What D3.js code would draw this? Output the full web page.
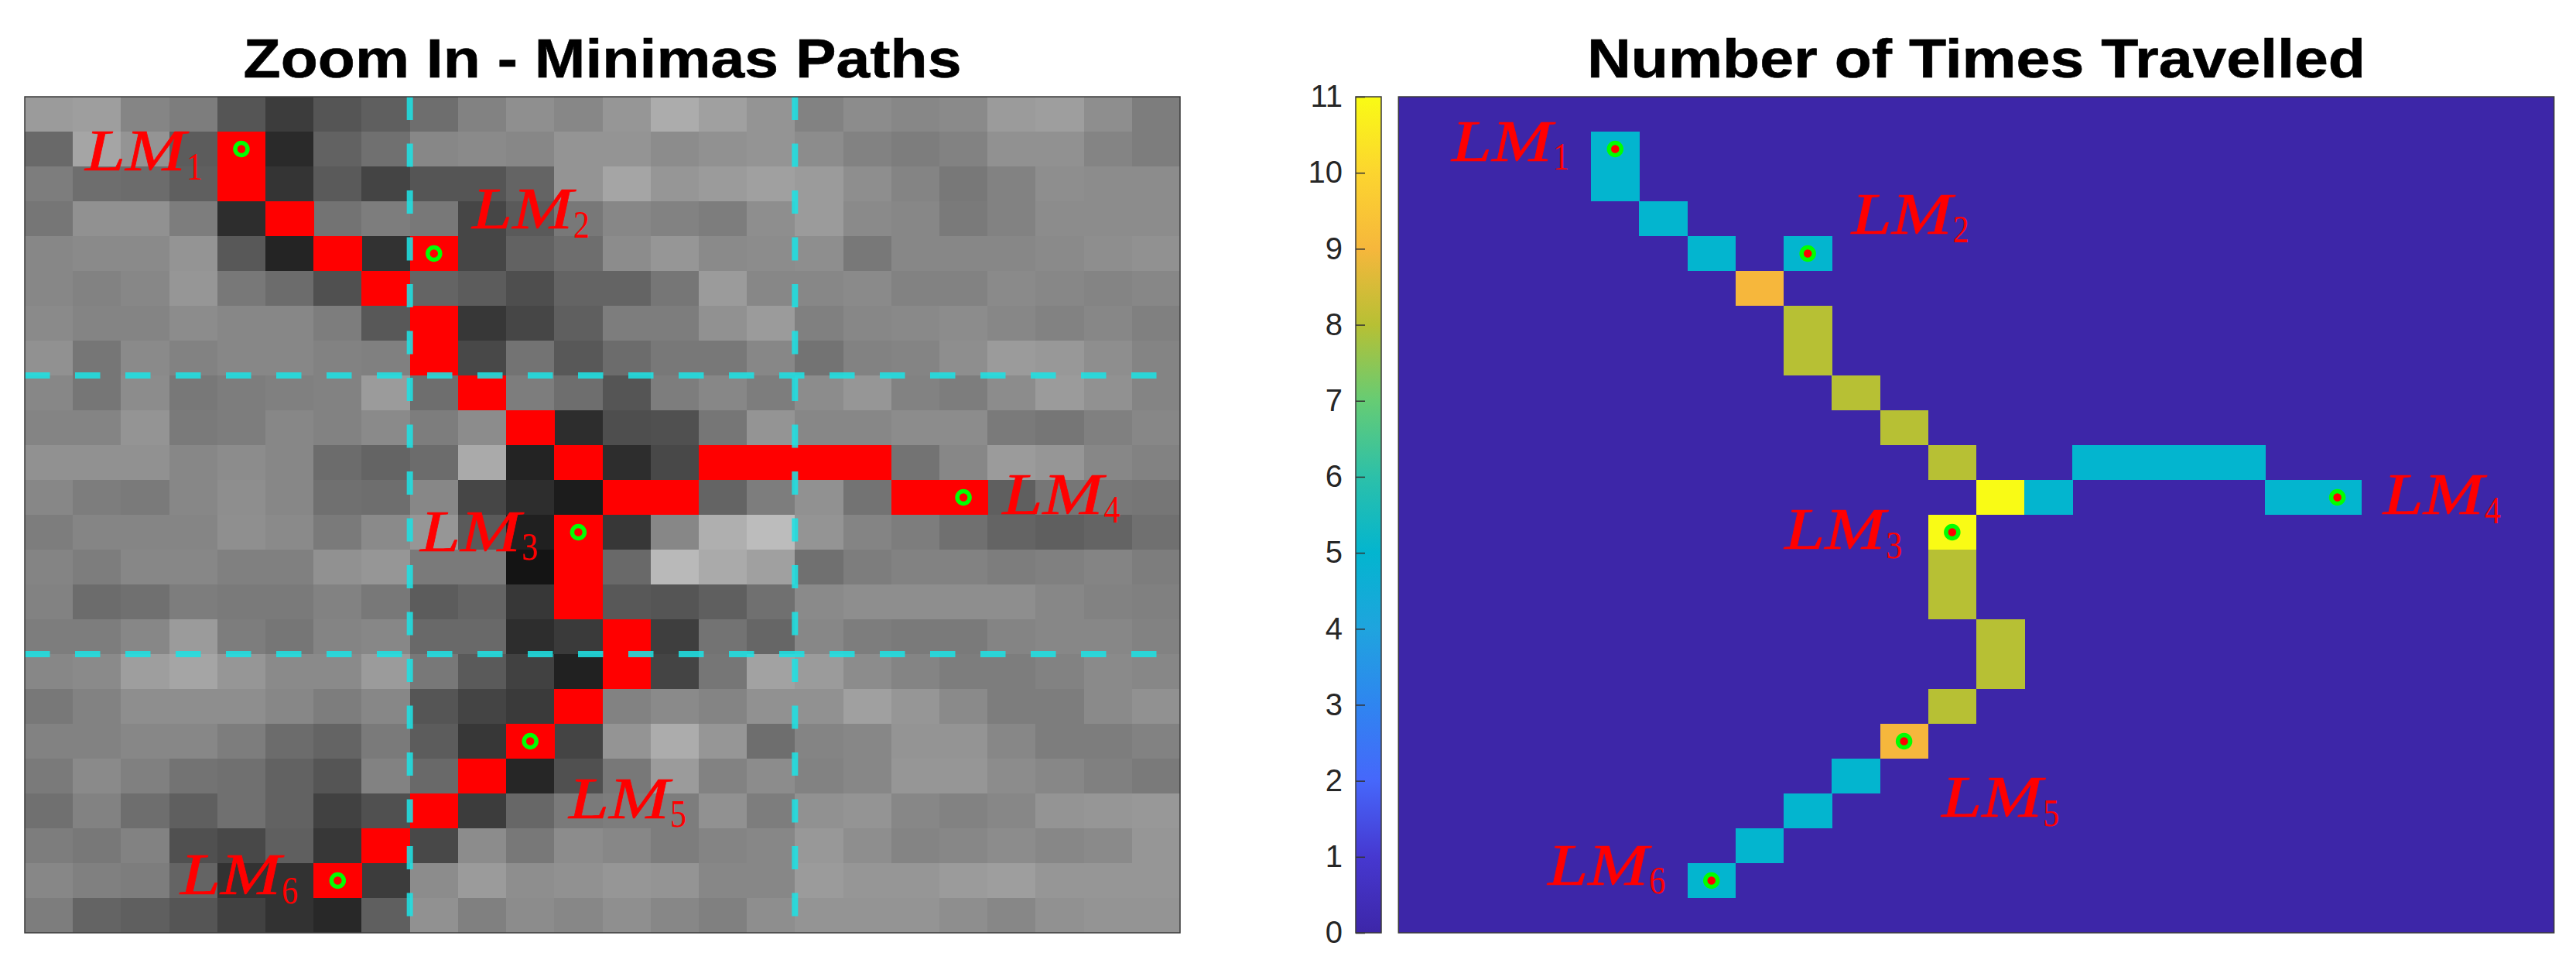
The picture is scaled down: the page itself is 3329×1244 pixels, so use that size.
<!DOCTYPE html>
<html><head><meta charset="utf-8">
<script src="https://cdn.jsdelivr.net/npm/d3@7"></script>
<style>html,body{margin:0;padding:0;background:#fff}svg{display:block}</style>
</head><body><svg id="chart"></svg>
<script>
// ---------- data ----------
const gridSize = 24;
const titles = ["Zoom In - Minimas Paths", "Number of Times Travelled"];
// grey level of every cell of the zoomed map; null = covered by the red path
const grayRows = [
[155,158,133,125,85,60,85,95,110,130,143,135,150,172,160,148,130,140,135,138,155,158,142,125],
[105,165,148,92,null,42,98,112,135,138,135,148,148,140,145,148,140,130,125,130,145,145,132,125],
[125,110,108,95,null,52,90,68,85,85,100,148,165,150,155,160,155,142,132,120,130,142,140,140],
[118,145,145,125,45,null,115,125,120,70,90,120,135,130,125,142,155,138,135,122,130,140,140,140],
[135,138,138,148,88,36,null,50,null,70,98,110,140,150,138,140,142,120,135,135,135,138,142,145],
[135,130,135,150,120,108,80,null,100,92,78,100,100,118,155,135,135,138,130,130,138,135,132,135],
[138,132,132,140,135,135,125,88,null,55,70,95,125,125,145,155,128,135,137,140,135,130,135,128],
[145,118,138,130,135,135,130,128,null,72,115,88,108,120,120,135,115,130,132,142,155,152,142,132],
[135,118,140,120,125,128,130,155,110,null,125,110,85,125,135,125,140,150,130,125,140,155,145,132],
[132,132,148,122,125,135,130,138,125,140,null,45,78,80,118,148,135,135,140,140,122,118,128,135],
[145,145,145,135,140,135,108,100,108,170,35,null,45,72,null,null,null,null,115,135,155,150,135,130],
[135,125,122,135,142,135,112,110,135,70,45,28,null,null,100,125,145,115,null,null,95,118,120,118],
[125,133,133,133,143,138,122,138,150,90,32,null,55,135,175,188,148,132,125,112,100,95,100,112],
[132,125,135,135,128,128,145,150,122,122,20,null,105,185,170,160,112,125,130,130,125,128,132,125],
[130,108,112,125,122,122,130,120,92,100,55,null,88,85,95,112,138,142,142,142,142,135,130,128],
[125,125,135,155,125,118,132,135,105,105,45,58,null,62,115,102,135,125,122,122,132,135,135,130],
[135,138,158,165,150,138,138,155,120,90,65,33,null,68,118,162,155,140,132,125,125,130,138,135],
[120,130,142,142,142,135,125,135,85,68,58,null,130,138,132,145,145,160,150,138,125,125,138,145],
[130,130,135,135,125,108,100,122,92,55,null,68,148,172,150,110,132,135,148,148,135,125,125,130],
[122,138,128,115,112,98,85,130,105,null,38,80,120,155,130,140,130,135,150,150,140,135,128,122],
[112,130,110,95,112,98,65,80,null,60,103,122,125,125,145,125,145,148,135,130,135,148,150,152],
[125,120,130,80,72,95,55,null,72,140,120,140,135,125,132,135,152,142,132,135,140,135,138,150],
[135,128,125,100,50,50,null,60,140,155,142,145,150,148,135,135,155,150,150,155,158,150,150,150],
[125,100,95,85,65,50,40,95,145,128,140,135,143,135,128,142,148,148,148,142,135,145,148,148]
];
// cells travelled
const pathCols =   [4,4,5,6,7,8,8,8,9,10,11,12,13,14,15,16,17,18,19,11,11,11,12,12,11,10,9,8,7,6];
const pathRows =   [1,2,3,4,5,4,6,7,8,9,10,11,11,10,10,10,10,11,11,12,13,14,15,16,17,18,19,20,21,22];
const pathCounts = [5,5,5,5,9,5,8,8,8,8,8,11,5,5,5,5,5,5,5,11,8,8,8,8,8,9,5,5,5,5];
const backgroundCount = 0;
// landmarks, in cell units
const lmNames = ["1","2","3","4","5","6"];
const lmCols = [4.5,8.5,11.5,19.5,10.5,6.5];
const lmRows = [1.5,4.5,12.5,11.5,18.5,22.5];
// label anchors, in cell units, one pair of arrays per panel
const labelColsL = [1.254,9.293,8.215,20.31,11.30,3.23];
const labelRowsL = [2.122,3.778,13.04,11.97,20.70,22.89];
const labelColsR = [1.105,9.41,8.02,20.45,11.28,3.10];
const labelRowsR = [1.844,3.93,12.98,11.98,20.67,22.62];
const guideLines = [8,16];
const colorTicks = [0,1,2,3,4,5,6,7,8,9,10,11];
const colorStopValues = [0,1,2,3,4,5,6,7,8,9,10,11];
const colorStopColors = ["#3d26a8","#4638d0","#4667fb","#2f85f0","#1fa4de","#03b5cf","#2cc0a9","#66cc74","#b7c034","#f6b73c","#fcd52f","#f9fb15"];

// ---------- layout ----------
const W = 3329, H = 1244, plotTop = 125, plotBottom = 1205;
const panelL = {x0:32, x1:1525}, panelR = {x0:1807.3, x1:3300.6}, cbar = {x0:1752, x1:1785};
const titleWidths = [928,1006];
const titleFont = "'Liberation Sans', Arial, sans-serif";
const mathFont = "'Liberation Serif', 'Times New Roman', serif";

const svg = d3.select("#chart").attr("width",W).attr("height",H).attr("viewBox",[0,0,W,H]);
const yCell = d3.scaleLinear().domain([0,gridSize]).range([plotTop,plotBottom]);
const xL = d3.scaleLinear().domain([0,gridSize]).range([panelL.x0,panelL.x1]);
const xR = d3.scaleLinear().domain([0,gridSize]).range([panelR.x0,panelR.x1]);
const gray = d3.scaleLinear().domain([0,255]).range(["#000","#fff"]);
const countColor = d3.scaleLinear().domain(colorStopValues).range(colorStopColors);
const pathCells = pathCols.map((c,i)=>({c,r:pathRows[i],n:pathCounts[i]}));
const marks = lmNames.map((name,i)=>({name,c:lmCols[i],r:lmRows[i]}));

function cellRects(g,data,x,fill){
  g.selectAll("rect").data(data).join("rect")
    .attr("x",d=>x(d.c)).attr("y",d=>yCell(d.r))
    .attr("width",d=>x(d.c+1)-x(d.c)+0.4).attr("height",d=>yCell(d.r+1)-yCell(d.r)+0.4)
    .attr("fill",fill);
}
function drawMarkers(g,x){
  g.selectAll("circle").data(marks).join("circle")
    .attr("cx",d=>x(d.c)).attr("cy",d=>yCell(d.r)).attr("r",8)
    .attr("fill","#ff0000").attr("stroke","#00ff00").attr("stroke-width",5.5);
}
function drawLabels(g,x,cols,rows){
  const lab = g.selectAll("g").data(marks).join("g")
    .attr("transform",(d,i)=>`translate(${x(cols[i])},${yCell(rows[i])})`);
  lab.append("text").text("LM")
    .attr("font-family",mathFont).attr("font-style","italic").attr("font-size",76)
    .attr("fill","#ff0000").attr("stroke","#ff0000").attr("stroke-width",0.7)
    .attr("textLength",130).attr("lengthAdjust","spacingAndGlyphs");
  lab.append("text").text(d=>d.name)
    .attr("x",131).attr("y",11.5)
    .attr("font-family",mathFont).attr("font-size",50)
    .attr("fill","#ff0000").attr("textLength",21).attr("lengthAdjust","spacingAndGlyphs");
}
function drawFrame(x0,x1){
  svg.append("rect").attr("x",x0).attr("y",plotTop).attr("width",x1-x0).attr("height",plotBottom-plotTop)
    .attr("fill","none").attr("stroke","#3a3a3a").attr("stroke-width",1.5);
}
function drawTitle(text,cx,width){
  svg.append("text").text(text).attr("x",cx).attr("y",100).attr("text-anchor","middle")
    .attr("font-family",titleFont).attr("font-weight","bold").attr("font-size",71).attr("fill","#000")
    .attr("stroke","#000").attr("stroke-width",0.6)
    .attr("textLength",width).attr("lengthAdjust","spacingAndGlyphs");
}

// ---------- left panel ----------
const grayCells = [];
grayRows.forEach((row,r)=>row.forEach((v,c)=>grayCells.push({c,r,v})));
const gl = svg.append("g");
cellRects(gl.append("g").attr("shape-rendering","crispEdges"),grayCells.filter(d=>d.v!==null),xL,d=>gray(d.v));
cellRects(gl.append("g").attr("shape-rendering","crispEdges"),pathCells,xL,"#ff0000");
const guides = gl.append("g").attr("stroke","#1fe0e2").attr("stroke-opacity",0.88).attr("stroke-width",8);
guides.selectAll(".v").data(guideLines).join("line").attr("class","v")
  .attr("x1",d=>xL(d)).attr("x2",d=>xL(d)).attr("y1",plotTop).attr("y2",plotBottom)
  .attr("stroke-dasharray","30 30.5");
guides.selectAll(".h").data(guideLines).join("line").attr("class","h")
  .attr("x1",panelL.x0).attr("x2",panelL.x1).attr("y1",d=>yCell(d)).attr("y2",d=>yCell(d))
  .attr("stroke-dasharray","32.5 32.5");
drawMarkers(gl.append("g"),xL);
drawLabels(gl.append("g"),xL,labelColsL,labelRowsL);
drawFrame(panelL.x0,panelL.x1);
drawTitle(titles[0],(panelL.x0+panelL.x1)/2,titleWidths[0]);

// ---------- right panel ----------
const gr = svg.append("g");
gr.append("rect").attr("x",panelR.x0).attr("y",plotTop).attr("width",panelR.x1-panelR.x0).attr("height",plotBottom-plotTop)
  .attr("fill",countColor(backgroundCount));
cellRects(gr.append("g").attr("shape-rendering","crispEdges"),pathCells,xR,d=>countColor(d.n));
drawMarkers(gr.append("g"),xR);
drawLabels(gr.append("g"),xR,labelColsR,labelRowsR);
drawFrame(panelR.x0,panelR.x1);
drawTitle(titles[1],(panelR.x0+panelR.x1)/2,titleWidths[1]);

// ---------- colour bar ----------
const yBar = d3.scaleLinear().domain([0,11]).range([plotBottom,plotTop]);
const grad = svg.append("defs").append("linearGradient").attr("id","bar")
  .attr("x1",0).attr("x2",0).attr("y1",1).attr("y2",0);
grad.selectAll("stop").data(colorStopValues).join("stop")
  .attr("offset",d=>d/11).attr("stop-color",d=>countColor(d));
svg.append("rect").attr("x",cbar.x0).attr("y",plotTop).attr("width",cbar.x1-cbar.x0).attr("height",plotBottom-plotTop)
  .attr("fill","url(#bar)");
drawFrame(cbar.x0,cbar.x1);
const axis = svg.append("g").attr("transform",`translate(${cbar.x0},0)`)
  .call(d3.axisLeft(yBar).tickValues(colorTicks).tickSizeInner(-12).tickSizeOuter(0).tickPadding(17).tickFormat(d3.format("d")));
axis.select(".domain").remove();
axis.selectAll("line").attr("stroke","#333").attr("stroke-width",1.5);
axis.selectAll("text").attr("font-family",titleFont).attr("font-size",40).attr("fill","#262626");
</script>
</body></html>
